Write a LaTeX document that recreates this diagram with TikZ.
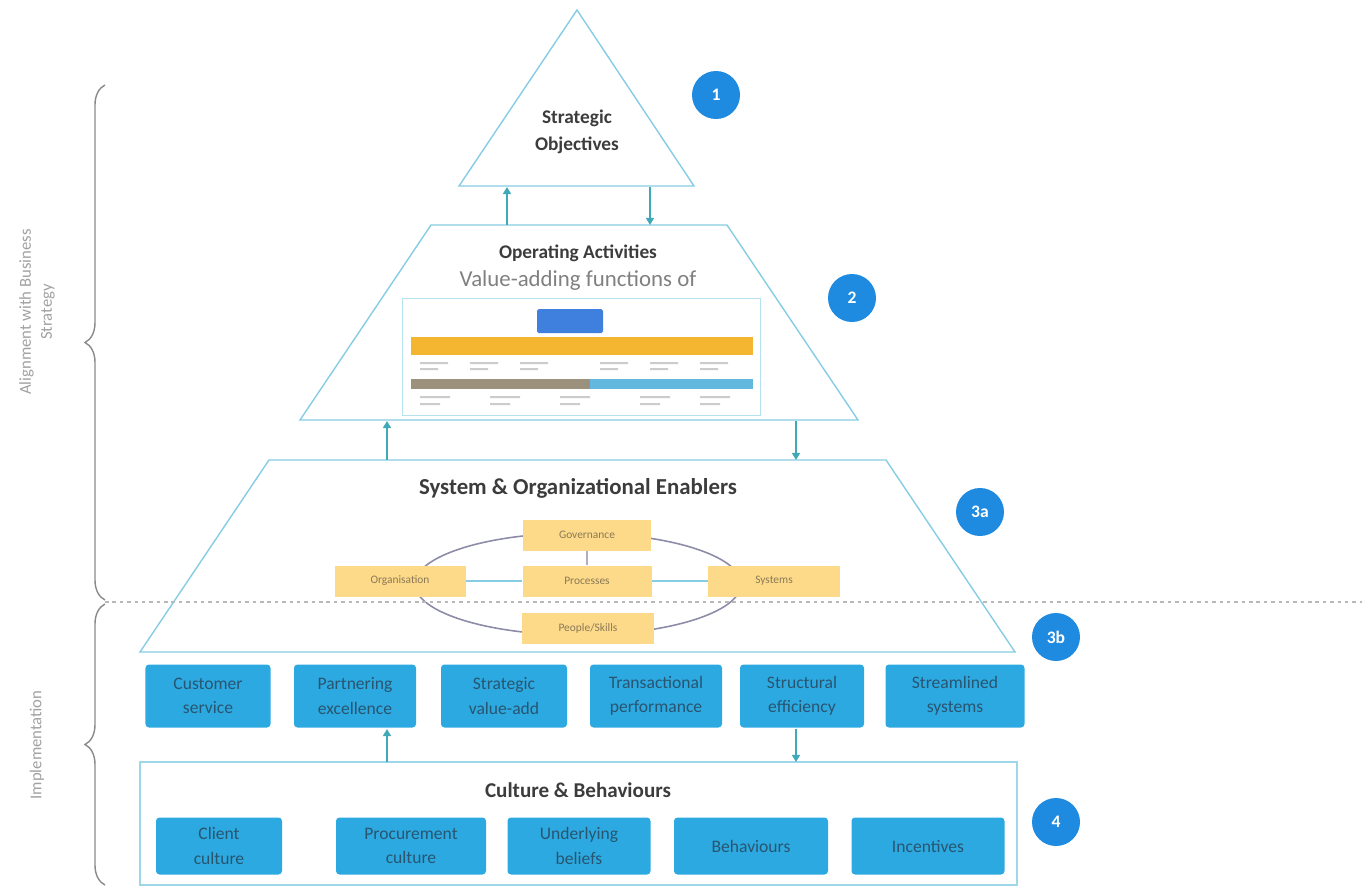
\documentclass[tikz,border=0pt]{standalone}
\usepackage{fontspec}
\setmainfont{Carlito}
\usepackage{tikz}
\usetikzlibrary{arrows.meta,decorations.pathreplacing,positioning}

\definecolor{lineblue}{HTML}{86CDE3}
\definecolor{arrowteal}{HTML}{3FA9B5}
\definecolor{tileblue}{HTML}{2DA9E1}
\definecolor{tiletext}{HTML}{285570}
\definecolor{badgeblue}{HTML}{1F8BE0}
\definecolor{enabyellow}{HTML}{FDD98A}
\definecolor{enabtext}{HTML}{8A7A55}
\definecolor{ringgray}{HTML}{8C8CA8}
\definecolor{headgray}{HTML}{3C3C3C}
\definecolor{sidegray}{HTML}{8A8A8A}
\definecolor{chartyellow}{HTML}{F4B531}
\definecolor{chartblue}{HTML}{3F7FDD}
\definecolor{chartbrown}{HTML}{9C917C}
\definecolor{chartcyan}{HTML}{62B8DE}

\begin{document}
\begin{tikzpicture}[x=0.2mm,y=-0.2mm,
    layer/.style={draw=lineblue,line width=0.8pt},
    link/.style={draw=arrowteal,line width=0.9pt,-{Triangle[length=4pt,width=4.5pt]}},
    heading/.style={font=\bfseries\fontsize{11}{15}\selectfont,text=headgray,align=center},
    badge/.style={circle,fill=badgeblue,text=white,font=\bfseries\fontsize{10}{10}\selectfont,minimum size=9.6mm,inner sep=0pt},
    tile/.style={fill=tileblue,rounded corners=2pt,text=tiletext,align=center,font=\fontsize{10}{14}\selectfont,inner sep=0pt,minimum width=#1},
    enabler/.style={fill=enabyellow,text=enabtext,font=\fontsize{6.5}{7}\selectfont,minimum width=#1,minimum height=6.2mm,inner sep=0pt},
    side/.style={rotate=90,text=sidegray!80,font=\fontsize{9.5}{12}\selectfont,align=center}]
  \useasboundingbox (0,0) rectangle (1362,888);

  % pyramid layers
  \draw[layer] (577,10) -- (694,186) -- (459,186) -- cycle;
  \draw[layer] (431,225) -- (727,225) -- (858,420) -- (300,420) -- cycle;
  \draw[layer] (269,460) -- (886,460) -- (1015,652) -- (140,652) -- cycle;
  \coordinate (obj-up) at (507,187);
  \coordinate (obj-dn) at (650,187);
  \coordinate (ops-up) at (507,225);
  \coordinate (ops-dn) at (650,225);
  \coordinate (ops-bl) at (387,421);
  \coordinate (ops-br) at (796,421);
  \coordinate (ena-up) at (387,460);
  \coordinate (ena-dn) at (796,460);

  \node[heading] (objectives) at (577,132) {Strategic\\Objectives};
  \node[heading] (operating) at (578,253) {Operating Activities};
  \node[text=gray,font=\fontsize{13}{15}\selectfont] (valueadd) at (578,281) {Value-adding functions of};

  % small embedded chart
  \draw[draw=lineblue!60,fill=white] (402,298) rectangle (760,415);
  \fill[chartyellow] (411,337) rectangle (753,355);
  \fill[chartbrown] (411,379) rectangle (590,389);
  \fill[chartcyan] (590,379) rectangle (753,389);
  \fill[chartblue,rounded corners=1pt] (537,309) rectangle (603,333);
  \foreach \x in {420,470,520,600,650,700}
    \fill[gray!40] (\x,362) rectangle ++(28,2) (\x,368) rectangle ++(18,2);
  \foreach \x in {420,490,560,640,700}
    \fill[gray!40] (\x,396) rectangle ++(30,2) (\x,403) rectangle ++(20,2);

  \node[heading,font=\bfseries\fontsize{13}{15}\selectfont] (enablers) at (578,488) {System \& Organizational Enablers};

  % enablers ring
  \draw[ringgray,line width=0.9pt] (578,584) ellipse [x radius=32.6mm,y radius=10.2mm];
  \node[enabler=25.6mm] (governance) at (587,535) {Governance};
  \node[enabler=25.8mm] (processes) at (587,581) {Processes};
  \node[enabler=26.4mm] (people) at (588,628) {People/Skills};
  \node[enabler=26.2mm] (organisation) at (400,581) {Organisation};
  \node[enabler=26.4mm] (systems) at (774,581) {Systems};
  \draw[lineblue,line width=0.8pt] (organisation) -- (processes) -- (systems);
  \draw[ringgray!70,line width=0.6pt] (governance) -- (processes);

  \draw[sidegray!60,line width=1.6pt,dash pattern=on 2pt off 2.2pt] (105,602) -- (1362,602);

  % initiative tiles
  \node[tile=25mm,minimum height=12.6mm] (customer) at (208,696) {Customer\\service};
  \node[tile=24.4mm,minimum height=12.6mm] (partnering) at (355,696) {Partnering\\excellence};
  \node[tile=25.2mm,minimum height=12.6mm] (strategic) at (504,696) {Strategic\\value-add};
  \node[tile=26.4mm,minimum height=12.6mm] (transactional) at (656,696) {Transactional\\performance};
  \node[tile=24.8mm,minimum height=12.6mm] (structural) at (802,696) {Structural\\efficiency};
  \node[tile=27.8mm,minimum height=12.6mm] (streamlined) at (955,696) {Streamlined\\systems};
  \coordinate (tile-up) at (387,729);
  \coordinate (tile-dn) at (796,729);

  % culture layer
  \draw[draw=lineblue!80,line width=0.8pt] (140,762) rectangle (1017,885);
  \coordinate (cul-up) at (387,762);
  \coordinate (cul-dn) at (796,762);
  \node[heading,font=\bfseries\fontsize{12}{14}\selectfont] (culture) at (578,790) {Culture \& Behaviours};
  \node[tile=25.2mm,minimum height=11.4mm] (client) at (219,846) {Client\\culture};
  \node[tile=30mm,minimum height=11.4mm] (procurement) at (411,846) {Procurement\\culture};
  \node[tile=28.6mm,minimum height=11.4mm] (beliefs) at (579,846) {Underlying\\beliefs};
  \node[tile=30.8mm,minimum height=11.4mm] (behaviours) at (751,846) {Behaviours};
  \node[tile=30.6mm,minimum height=11.4mm] (incentives) at (928,846) {Incentives};

  % links
  \draw[link] (ops-up) -- (obj-up);
  \draw[link] (obj-dn) -- (ops-dn);
  \draw[link] (ena-up) -- (ops-bl);
  \draw[link] (ops-br) -- (ena-dn);
  \draw[link] (cul-up) -- (tile-up);
  \draw[link] (tile-dn) -- (cul-dn);

  % badges
  \node[badge] (b1) at (716,95) {1};
  \node[badge] (b2) at (852,298) {2};
  \node[badge] (b3a) at (980,512) {3a};
  \node[badge] (b3b) at (1056,637) {3b};
  \node[badge] (b4) at (1056,822) {4};

  % side braces
  \draw[sidegray,line width=0.8pt,decorate,decoration={brace,amplitude=4mm}] (105,600) -- (105,85);
  \draw[sidegray,line width=0.8pt,decorate,decoration={brace,amplitude=4mm}] (105,885) -- (105,604);
  \node[side] (alignment) at (37,312) {Alignment with Business\\Strategy};
  \node[side] (implementation) at (37,745) {Implementation};
\end{tikzpicture}
\end{document}
